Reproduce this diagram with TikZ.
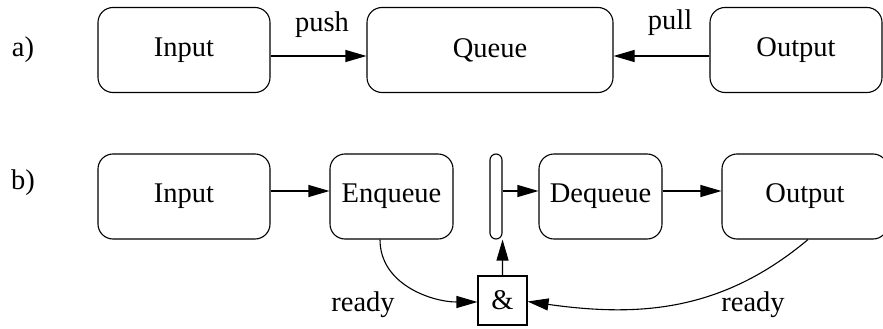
\documentclass[tikz,border=0pt]{standalone}
\usepackage{fontspec}
\setmainfont{Liberation Serif}
\usetikzlibrary{arrows.meta}
\begin{document}
\begin{tikzpicture}[x=1pt,y=-1pt,
  line width=1.1pt,
  every node/.style={font=\fontsize{28.5}{30}\selectfont, inner sep=0pt},
  block/.style={draw, rounded corners=15pt, minimum height=85pt},
  slot/.style={draw, rounded corners=6pt, minimum width=12pt, minimum height=85pt},
  gate/.style={draw, minimum width=49pt, minimum height=49pt},
  flow/.style={-{Triangle[length=21pt,width=12pt]}},
  label/.style={}]
  \useasboundingbox (0,0) rectangle (883,329);

  % a) queue with push and pull
  \node[label] (la) at (23,50) {a)};
  \node[block, minimum width=172pt] (ina) at (184,50) {Input};
  \node[block, minimum width=246pt] (qa) at (490,50) {Queue};
  \node[block, minimum width=172pt] (outa) at (796,50) {Output};
  \draw[flow] ([yshift=-6pt]ina.east) -- ([yshift=-6pt]qa.west);
  \draw[flow] ([yshift=-6pt]outa.west) -- ([yshift=-6pt]qa.east);
  \node[label] (push) at (322,25) {push};
  \node[label] (pull) at (670,23) {pull};

  % b) enqueue / dequeue with ready handshake
  \node[label] (lb) at (23,183) {b)};
  \node[block, minimum width=172pt] (inb) at (184,196.5) {Input};
  \node[block, minimum width=123pt] (enq) at (391.5,196.5) {Enqueue};
  \node[slot] (buf) at (496,196.5) {};
  \node[block, minimum width=123pt] (deq) at (600.5,196.5) {Dequeue};
  \node[block, minimum width=166pt] (outb) at (805,196.5) {Output};
  \node[gate] (amp) at (502.5,300.5) {\&};

  \draw[flow] ([yshift=5.5pt]inb.east) -- ([yshift=5.5pt]enq.west);
  \draw[flow] ([yshift=5.5pt]buf.east) -- ([yshift=5.5pt]deq.west);
  \draw[flow] ([yshift=5.5pt]deq.east) -- ([yshift=5.5pt]outb.west);
  \draw[flow] (amp.north) -- (buf.south east);
  \draw[flow] ([xshift=-11.5pt]enq.south) to[out=-90, in=180] ([yshift=-1.5pt]amp.west);
  \draw[flow] ([xshift=3pt]outb.south) to[out=-140, in=-8] ([yshift=-1pt]amp.east);

  \node[label] (rdl) at (363,305) {ready};
  \node[label] (rdr) at (753,305) {ready};
\end{tikzpicture}
\end{document}
